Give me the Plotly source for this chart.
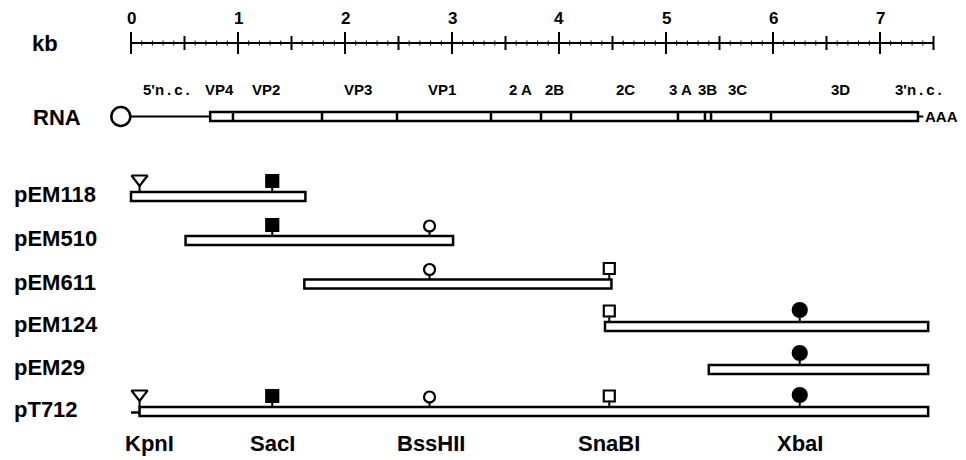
import plotly.graph_objects as go

# ---------------- data ----------------
scale_ticks = [0, 1, 2, 3, 4, 5, 6, 7]
scale_half_ticks = [0.5, 1.5, 2.5, 3.5, 4.5, 5.5, 6.5, 7.5]
scale_end = 7.5

rna_start = 0.74
rna_end = 7.355
rna_bounds = [0.953, 1.785, 2.486, 3.364, 3.832, 4.112, 5.112, 5.364, 5.421, 5.981]
gene_labels = ["5'n.c.", "VP4", "VP2", "VP3", "VP1", "2 A", "2B", "2C", "3 A", "3B", "3C", "3D", "3'n.c."]
gene_label_pos = [0.33, 0.83, 1.26, 2.12, 2.91, 3.64, 3.96, 4.62, 5.14, 5.39, 5.67, 6.63, 7.36]

clones = ["pEM118", "pEM510", "pEM611", "pEM124", "pEM29", "pT712"]
clone_start = [0.0, 0.51, 1.62, 4.43, 5.40, 0.08]
clone_end = [1.63, 3.01, 4.49, 7.45, 7.45, 7.45]

sites = ["KpnI", "SacI", "BssHII", "SnaBI", "XbaI"]
site_pos = [0.08, 1.32, 2.79, 4.47, 6.25]
site_label_pos = [0.17, 1.32, 2.80, 4.47, 6.25]
clone_sites = [
    ["KpnI", "SacI"],
    ["SacI", "BssHII"],
    ["BssHII", "SnaBI"],
    ["SnaBI", "XbaI"],
    ["XbaI"],
    ["KpnI", "SacI", "BssHII", "SnaBI", "XbaI"],
]

# ---------------- layout / style ----------------
PAGE_MARGIN = 8                      # default body margin of the html page
W, H = 966 - PAGE_MARGIN, 460 - PAGE_MARGIN
PX_PER_KB = 107.0
X0_PX = 131.0 - PAGE_MARGIN
x_min = -X0_PX / PX_PER_KB
x_max = x_min + W / PX_PER_KB

row_y = [196.5, 240.5, 284, 326.5, 369.5, 411.5]   # page-pixel rows
bar_half = 4.5
scale_y = 43
rna_y = 116.5
FONT = "Liberation Sans, Arial, Helvetica, sans-serif"
site_symbol = {"KpnI": "triangle-down-open", "SacI": "square", "BssHII": "circle-open",
               "SnaBI": "square-open", "XbaI": "circle"}
site_size = {"KpnI": 14, "SacI": 12, "BssHII": 11, "SnaBI": 11, "XbaI": 14}
site_off = {"KpnI": 13, "SacI": 11, "BssHII": 10, "SnaBI": 11, "XbaI": 12}


def px2paper(px):
    return (px - PAGE_MARGIN) / W


def b(t):
    return "<b>%s</b>" % t


def spaced(t):
    # slightly wider letter spacing for the n.c. labels
    return t.replace("'n.c.", "'n\u2009.\u2009c\u2009.") if "n.c." in t else t


shapes = []
annotations = []
traces = []

# scale ruler
shapes.append(dict(type="line", x0=0, x1=scale_end, y0=scale_y, y1=scale_y,
                   line=dict(color="black", width=2)))
minor = [i / 10 for i in range(0, int(scale_end * 10) + 1)]
for m in minor:
    shapes.append(dict(type="line", x0=m, x1=m, y0=scale_y - 2.5, y1=scale_y + 2.5,
                       line=dict(color="black", width=1)))
for t in scale_ticks:
    shapes.append(dict(type="line", x0=t, x1=t, y0=scale_y - 11, y1=scale_y + 11,
                       line=dict(color="black", width=2)))
    annotations.append(dict(x=t, y=18, xref="x", yref="y", text=b(t), showarrow=False,
                            font=dict(family=FONT, size=17, color="black"),
                            xanchor="center", yanchor="middle"))
for t in scale_half_ticks:
    shapes.append(dict(type="line", x0=t, x1=t, y0=scale_y - 7, y1=scale_y + 7,
                       line=dict(color="black", width=2)))
annotations.append(dict(x=px2paper(30), y=scale_y, xref="paper", yref="y",
                        text=b("kb"), showarrow=False, xanchor="left", yanchor="middle",
                        font=dict(family=FONT, size=22, color="black")))

# RNA
annotations.append(dict(x=px2paper(31), y=rna_y + 1, xref="paper", yref="y",
                        text=b("RNA"), showarrow=False, xanchor="left", yanchor="middle",
                        font=dict(family=FONT, size=22, color="black")))
shapes.append(dict(type="line", x0=0, x1=rna_start, y0=rna_y, y1=rna_y,
                   line=dict(color="black", width=2)))
shapes.append(dict(type="rect", x0=rna_start, x1=rna_end, y0=rna_y - 4.5, y1=rna_y + 4.5,
                   line=dict(color="black", width=2.5), fillcolor="white"))
for bd in rna_bounds:
    shapes.append(dict(type="line", x0=bd, x1=bd, y0=rna_y - 4.5, y1=rna_y + 4.5,
                       line=dict(color="black", width=2.5)))
shapes.append(dict(type="line", x0=rna_end, x1=rna_end + 0.05, y0=rna_y, y1=rna_y,
                   line=dict(color="black", width=2)))
annotations.append(dict(x=rna_end + 0.045, y=rna_y, xref="x", yref="y", text=b("AAA"),
                        showarrow=False, xanchor="left", yanchor="middle",
                        font=dict(family=FONT, size=15, color="black")))
traces.append(go.Scatter(x=[-0.095], y=[rna_y], mode="markers", hoverinfo="skip",
                         marker=dict(symbol="circle-open", size=19, color="black",
                                     line=dict(width=2.5, color="black"))))
for lab, pos in zip(gene_labels, gene_label_pos):
    annotations.append(dict(x=pos, y=89, xref="x", yref="y", text=b(spaced(lab)),
                            showarrow=False, xanchor="center", yanchor="middle",
                            font=dict(family=FONT, size=15, color="black")))

# clones
for name, s, e, ry, cs in zip(clones, clone_start, clone_end, row_y, clone_sites):
    annotations.append(dict(x=px2paper(12), y=ry - 2, xref="paper", yref="y", text=b(name),
                            showarrow=False, xanchor="left", yanchor="middle",
                            font=dict(family=FONT, size=22, color="black")))
    if name == "pT712":
        shapes.append(dict(type="line", x0=0, x1=s, y0=ry + 1, y1=ry + 1,
                           line=dict(color="black", width=2.5)))
    shapes.append(dict(type="rect", x0=s, x1=e, y0=ry - bar_half, y1=ry + bar_half,
                       line=dict(color="black", width=2.5), fillcolor="white"))
    for site in cs:
        p = site_pos[sites.index(site)]
        top = ry - bar_half
        cy = top - site_off[site]
        shapes.append(dict(type="line", x0=p, x1=p, y0=top, y1=cy + site_size[site] / 2 - 1,
                           line=dict(color="black", width=2)))
        traces.append(go.Scatter(x=[p], y=[cy], mode="markers", hoverinfo="skip",
                                 marker=dict(symbol=site_symbol[site], size=site_size[site],
                                             color="black",
                                             line=dict(width=2.2, color="black"))))

# enzyme labels
for site, lp in zip(sites, site_label_pos):
    annotations.append(dict(x=lp, y=443, xref="x", yref="y", text=b(site), showarrow=False,
                            xanchor="center", yanchor="middle",
                            font=dict(family=FONT, size=22, color="black")))

fig = go.Figure(traces)
fig.update_layout(
    width=W, height=H, margin=dict(l=0, r=0, t=0, b=0),
    paper_bgcolor="white", plot_bgcolor="white", showlegend=False,
    xaxis=dict(range=[x_min, x_max], visible=False, fixedrange=True),
    yaxis=dict(range=[H + PAGE_MARGIN, PAGE_MARGIN], visible=False, fixedrange=True),
    shapes=shapes, annotations=annotations,
)
fig.write_html("out.html")
